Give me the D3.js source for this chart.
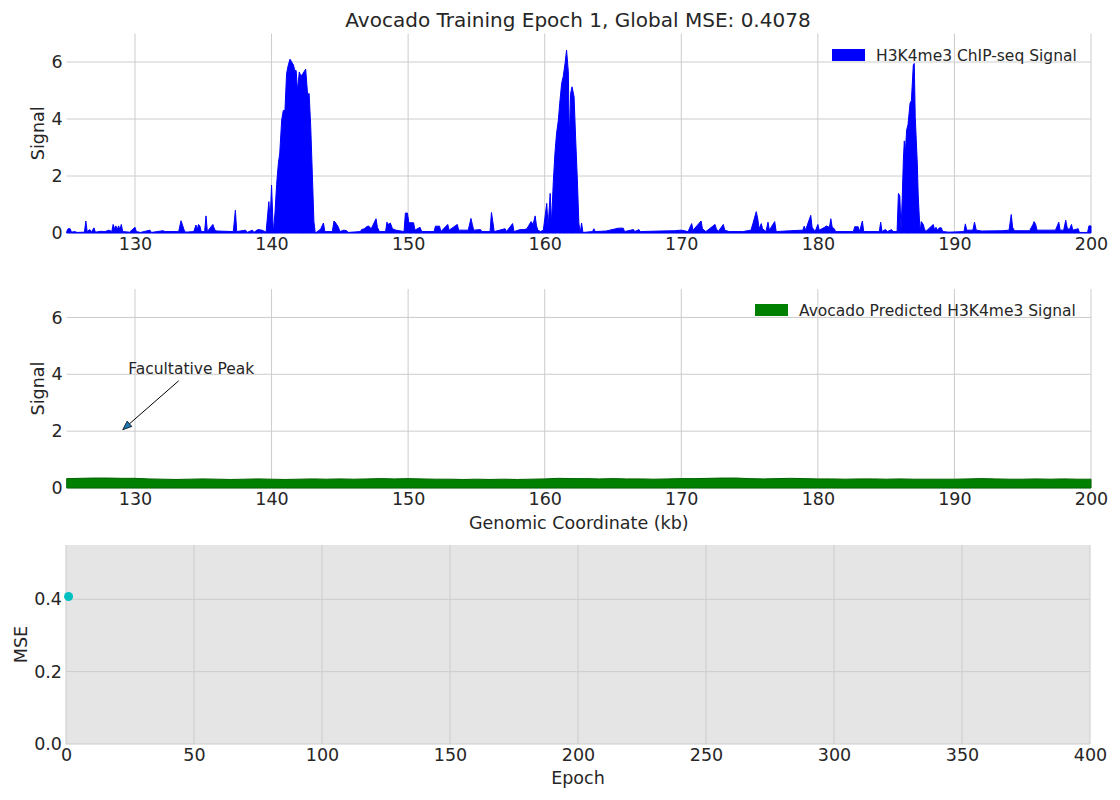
<!DOCTYPE html>
<html><head><meta charset="utf-8">
<script src="https://cdn.jsdelivr.net/npm/d3@7"></script>
<style>
html,body{margin:0;padding:0;background:#fff;}
svg text{font-family:"DejaVu Sans",sans-serif;fill:#262626;}
</style></head><body>
<svg id="chart" width="1120" height="800"></svg>
<script>
// ---------- DATA ----------
const titleText = "Avocado Training Epoch 1, Global MSE: 0.4078";
const coordTicks = [130, 140, 150, 160, 170, 180, 190, 200];
const signalTicks = [0, 2, 4, 6];
const epochTicks = [0, 50, 100, 150, 200, 250, 300, 350, 400];
const mseTicks = [0.0, 0.2, 0.4];
// observed ChIP-seq signal: [kb, signal]
const chipSignal = [
[125.0,0.05],[125.1,0.15],[125.25,0.15],[125.35,0.03],[125.6,0.05],[125.75,0.02],[126.3,0.03],[126.4,0.42],[126.5,0.05],
[126.7,0.12],[126.8,0.03],[127.0,0.18],[127.1,0.03],[127.5,0.06],[127.8,0.05],[128.1,0.1],[128.3,0.05],[128.4,0.3],
[128.5,0.15],[128.6,0.25],[128.7,0.12],[128.8,0.25],[128.9,0.12],[129.0,0.3],[129.1,0.05],[129.6,0.03],[130.0,0.2],
[130.1,0.05],[130.4,0.02],[131.1,0.1],[131.2,0.02],[132.05,0.08],[132.2,0.05],[133.2,0.05],[133.37,0.43],[133.5,0.25],
[133.6,0.1],[133.7,0.03],[134.3,0.05],[134.47,0.28],[134.55,0.1],[134.65,0.3],[134.75,0.25],[134.85,0.05],[135.1,0.05],
[135.2,0.6],[135.3,0.05],[135.7,0.3],[135.85,0.1],[136.0,0.07],[137.2,0.05],[137.35,0.8],[137.45,0.05],[138.1,0.1],
[138.2,0.02],[138.6,0.1],[138.7,0.02],[139.0,0.12],[139.3,0.1],[139.6,0.03],[139.8,1.1],[139.9,0.5],[140.0,1.68],
[140.13,0.0],[140.25,0.7],[140.37,1.7],[140.5,2.45],[140.6,2.8],[140.74,3.96],[140.86,4.3],[140.98,4.3],[141.1,5.6],
[141.23,5.9],[141.35,6.1],[141.47,6.0],[141.6,5.9],[141.7,5.7],[141.8,5.7],[141.9,5.0],[142.03,5.65],[142.15,5.5],
[142.3,5.6],[142.5,5.75],[142.64,4.85],[142.75,4.9],[142.87,3.7],[143.0,1.85],[143.1,0.4],[143.2,0.0],[143.5,0.1],
[143.6,0.15],[143.8,0.35],[143.9,0.05],[144.45,0.05],[144.57,0.42],[144.7,0.35],[144.9,0.2],[145.0,0.05],[145.3,0.1],
[145.5,0.08],[145.6,0.02],[146.5,0.05],[146.6,0.12],[146.8,0.15],[146.9,0.2],[147.1,0.25],[147.3,0.15],[147.65,0.5],
[147.75,0.2],[147.9,0.05],[148.35,0.05],[148.45,0.38],[148.55,0.3],[148.7,0.35],[148.85,0.15],[149.1,0.1],[149.7,0.05],
[149.8,0.7],[149.95,0.7],[150.05,0.36],[150.4,0.36],[150.5,0.1],[150.87,0.2],[151.0,0.05],[151.9,0.05],[152.0,0.24],
[152.3,0.24],[152.4,0.05],[152.9,0.3],[153.0,0.1],[153.6,0.3],[153.7,0.1],[154.4,0.1],[154.6,0.51],[154.7,0.3],
[154.8,0.1],[155.3,0.12],[155.4,0.05],[156.0,0.05],[156.1,0.72],[156.2,0.4],[156.3,0.05],[157.1,0.15],[157.2,0.05],
[157.65,0.33],[157.75,0.05],[158.2,0.12],[158.5,0.12],[158.7,0.15],[159.0,0.4],[159.15,0.3],[159.3,0.6],[159.4,0.25],
[159.5,0.1],[159.7,0.05],[159.9,0.1],[160.15,1.04],[160.25,0.2],[160.4,1.39],[160.5,0.35],[160.63,1.8],[160.75,2.8],
[160.87,3.5],[161.0,3.96],[161.1,4.55],[161.24,5.25],[161.36,5.5],[161.49,5.95],[161.6,6.42],[161.73,5.66],[161.8,3.26],
[161.9,4.9],[162.0,5.13],[162.15,4.78],[162.27,3.26],[162.39,1.86],[162.5,0.35],[162.6,0.0],[162.7,0.35],[162.8,0.02],
[163.5,0.05],[163.6,0.15],[163.7,0.05],[164.5,0.07],[165.4,0.17],[165.75,0.17],[165.85,0.05],[166.5,0.12],[166.6,0.05],
[166.9,0.12],[167.0,0.05],[168.5,0.07],[169.5,0.08],[170.0,0.1],[170.5,0.05],[170.76,0.33],[170.86,0.1],[171.45,0.42],
[171.55,0.15],[171.8,0.05],[172.47,0.3],[172.57,0.15],[172.7,0.05],[173.08,0.3],[173.18,0.1],[173.5,0.05],[174.5,0.05],
[175.1,0.1],[175.25,0.34],[175.49,0.75],[175.6,0.5],[175.7,0.15],[175.86,0.33],[175.95,0.15],[176.2,0.05],[176.35,0.38],
[176.45,0.1],[176.84,0.4],[176.95,0.05],[178.0,0.08],[178.9,0.1],[179.0,0.24],[179.1,0.1],[179.48,0.62],[179.58,0.2],
[179.8,0.05],[180.0,0.3],[180.1,0.1],[180.5,0.2],[180.6,0.25],[180.85,0.2],[180.95,0.5],[181.05,0.2],[181.2,0.15],
[181.3,0.05],[182.6,0.05],[182.7,0.22],[182.95,0.22],[183.05,0.05],[183.26,0.42],[183.36,0.05],[184.5,0.05],[184.6,0.38],
[184.7,0.05],[184.95,0.12],[185.1,0.05],[185.4,0.12],[185.5,0.05],[185.8,0.05],[185.9,1.39],[186.0,1.3],[186.09,0.1],
[186.18,1.22],[186.26,2.56],[186.33,3.23],[186.4,2.8],[186.5,3.61],[186.6,3.8],[186.75,4.55],[186.85,4.65],[186.99,5.9],
[187.06,5.95],[187.13,4.08],[187.28,2.46],[187.35,1.3],[187.45,0.35],[187.5,0.05],[187.57,0.4],[187.72,0.3],[187.8,0.15],
[187.9,0.05],[188.45,0.3],[188.55,0.1],[188.65,0.2],[188.75,0.1],[188.9,0.18],[189.04,0.18],[189.15,0.05],[189.6,0.03],
[190.7,0.05],[190.8,0.32],[190.9,0.1],[191.35,0.1],[191.47,0.38],[191.6,0.1],[192.0,0.07],[193.5,0.08],[194.0,0.1],
[194.16,0.65],[194.26,0.2],[194.4,0.08],[195.5,0.08],[195.75,0.3],[195.83,0.4],[195.95,0.3],[196.05,0.1],[196.5,0.1],
[197.4,0.1],[197.64,0.38],[197.74,0.1],[198.0,0.1],[198.15,0.45],[198.25,0.2],[198.4,0.1],[198.57,0.3],[198.67,0.1],
[199.06,0.15],[199.15,0.02],[199.75,0.02],[199.85,0.25],[200.0,0.25]
];
// predicted signal, one value per kb from 125 to 200
const predStart = 125;
const predSignal = [0.33,0.34,0.35,0.35,0.34,0.34,0.32,0.31,0.30,0.31,0.32,0.31,0.30,0.31,0.32,0.31,0.30,0.31,0.32,0.31,
0.32,0.31,0.32,0.33,0.32,0.33,0.32,0.31,0.31,0.30,0.31,0.30,0.31,0.30,0.31,0.32,0.34,0.33,0.33,0.32,
0.33,0.32,0.32,0.31,0.32,0.33,0.33,0.34,0.35,0.35,0.33,0.32,0.33,0.34,0.33,0.32,0.32,0.31,0.32,0.32,
0.31,0.32,0.31,0.31,0.31,0.31,0.32,0.33,0.32,0.31,0.31,0.32,0.31,0.32,0.31,0.31];
const mseEpochs = [1];
const mseValues = [0.4078];
const annotLabel = "Facultative Peak";
const annotTip = [129.1, 2.05];
const annotTextPos = [129.5, 4.0];
const annotTail = [133.2, 3.77];

// ---------- LAYOUT ----------
const svg = d3.select("#chart");
const L = 66.7, R = 1091;
const panels = [{top:33.5, bottom:233},{top:289, bottom:488},{top:545, bottom:744}];
const gridColor = "#cccccc";
const tickFont = "17.5px", labelFont = "17.5px", smallFont = "15.5px";

const x = d3.scaleLinear().domain([125, 200]).range([L, R]);
const y1 = d3.scaleLinear().domain([0, 7]).range([panels[0].bottom, panels[0].top]);
const y2 = d3.scaleLinear().domain([0, 7]).range([panels[1].bottom, panels[1].top]);
const xe = d3.scaleLinear().domain([0, 400]).range([66, 1090]);
const y3 = d3.scaleLinear().domain([0, 0.55]).range([panels[2].bottom, panels[2].top]);

function drawGrid(xs, ys, xt, yt, p) {
  const g = svg.append("g");
  g.selectAll(".vx").data(xt).join("line")
    .attr("x1", d => xs(d)).attr("x2", d => xs(d))
    .attr("y1", p.top).attr("y2", p.bottom)
    .attr("stroke", gridColor).attr("stroke-width", 1);
  g.selectAll(".hy").data(yt).join("line")
    .attr("x1", xs.range()[0]).attr("x2", xs.range()[1])
    .attr("y1", d => ys(d)).attr("y2", d => ys(d))
    .attr("stroke", gridColor).attr("stroke-width", 1);
}
function drawAxes(xs, ys, xt, yt, p, yfmt, xfmt) {
  const ax = svg.append("g").attr("transform", `translate(0,${p.bottom})`)
    .call(d3.axisBottom(xs).tickValues(xt).tickSize(0).tickPadding(5).tickFormat(xfmt));
  ax.select(".domain").remove();
  ax.selectAll("text").style("font-size", tickFont).attr("fill", "#262626");
  const ay = svg.append("g").attr("transform", `translate(${xs.range()[0]},0)`)
    .call(d3.axisLeft(ys).tickValues(yt).tickSize(0).tickPadding(4).tickFormat(yfmt));
  ay.select(".domain").remove();
  ay.selectAll("text").style("font-size", tickFont).attr("fill", "#262626");
}

// Title
svg.append("text").attr("x", 578).attr("y", 27).attr("text-anchor", "middle")
  .style("font-size", "20px").text(titleText);

// ---- Panel 1 ----
drawGrid(x, y1, coordTicks, signalTicks, panels[0]);
const area1 = d3.area().x(d => x(d[0])).y0(y1(0)).y1(d => y1(d[1]));
svg.append("path").datum(chipSignal).attr("d", area1)
  .attr("fill", "#0000ff").attr("stroke", "#0000ff").attr("stroke-width", 1).attr("stroke-linejoin", "round");
drawAxes(x, y1, coordTicks, signalTicks, panels[0], d3.format("d"), d3.format("d"));
svg.append("text").attr("transform", `translate(44,${(panels[0].top+panels[0].bottom)/2}) rotate(-90)`)
  .attr("text-anchor", "middle").style("font-size", labelFont).text("Signal");
// legend 1
svg.append("rect").attr("x", 832).attr("y", 49).attr("width", 33).attr("height", 12).attr("fill", "#0000ff");
svg.append("text").attr("x", 876).attr("y", 60.5).style("font-size", smallFont).text("H3K4me3 ChIP-seq Signal");

// ---- Panel 2 ----
drawGrid(x, y2, coordTicks, signalTicks, panels[1]);
const predData = predSignal.map((v, i) => [predStart + i, v]);
const area2 = d3.area().x(d => x(d[0])).y0(y2(0)).y1(d => y2(d[1]));
svg.append("path").datum(predData).attr("d", area2)
  .attr("fill", "#008000").attr("stroke", "#006400").attr("stroke-width", 1);
drawAxes(x, y2, coordTicks, signalTicks, panels[1], d3.format("d"), d3.format("d"));
svg.append("text").attr("transform", `translate(44,${(panels[1].top+panels[1].bottom)/2}) rotate(-90)`)
  .attr("text-anchor", "middle").style("font-size", labelFont).text("Signal");
svg.append("text").attr("x", (L+R)/2).attr("y", 529).attr("text-anchor", "middle")
  .style("font-size", labelFont).text("Genomic Coordinate (kb)");
// legend 2
svg.append("rect").attr("x", 755).attr("y", 304).attr("width", 33).attr("height", 12).attr("fill", "#008000");
svg.append("text").attr("x", 799).attr("y", 315.5).style("font-size", smallFont).text("Avocado Predicted H3K4me3 Signal");
// annotation
svg.append("text").attr("x", x(annotTextPos[0])).attr("y", y2(annotTextPos[1])).style("font-size", smallFont).text(annotLabel);
{
  const tx = x(annotTip[0]), ty = y2(annotTip[1]);
  const sx = x(annotTail[0]), sy = y2(annotTail[1]);
  const ang = Math.atan2(ty - sy, tx - sx);
  const hl = 9, hw = 3.5;
  const bx = tx - hl*Math.cos(ang), by = ty - hl*Math.sin(ang);
  svg.append("line").attr("x1", sx).attr("y1", sy).attr("x2", bx).attr("y2", by)
    .attr("stroke", "#000").attr("stroke-width", 1);
  const px = -Math.sin(ang), py = Math.cos(ang);
  svg.append("path").attr("d", `M${tx},${ty}L${bx+hw*px},${by+hw*py}L${bx-hw*px},${by-hw*py}Z`)
    .attr("fill", "#1f77b4").attr("stroke", "#000").attr("stroke-width", 0.8);
}

// ---- Panel 3 ----
svg.append("rect").attr("x", 66).attr("y", panels[2].top).attr("width", 1090-66).attr("height", panels[2].bottom-panels[2].top)
  .attr("fill", "#e5e5e5");
drawGrid(xe, y3, epochTicks, mseTicks, panels[2]);
svg.selectAll(".msept").data(mseEpochs).join("circle")
  .attr("cx", d => xe(d)).attr("cy", (d, i) => y3(mseValues[i])).attr("r", 4.5).attr("fill", "#00bfbf");
drawAxes(xe, y3, epochTicks, mseTicks, panels[2], d3.format(".1f"), d3.format("d"));
svg.append("text").attr("transform", `translate(27,${(panels[2].top+panels[2].bottom)/2}) rotate(-90)`)
  .attr("text-anchor", "middle").style("font-size", labelFont).text("MSE");
svg.append("text").attr("x", 578).attr("y", 784).attr("text-anchor", "middle")
  .style("font-size", labelFont).text("Epoch");
</script>
</body></html>
